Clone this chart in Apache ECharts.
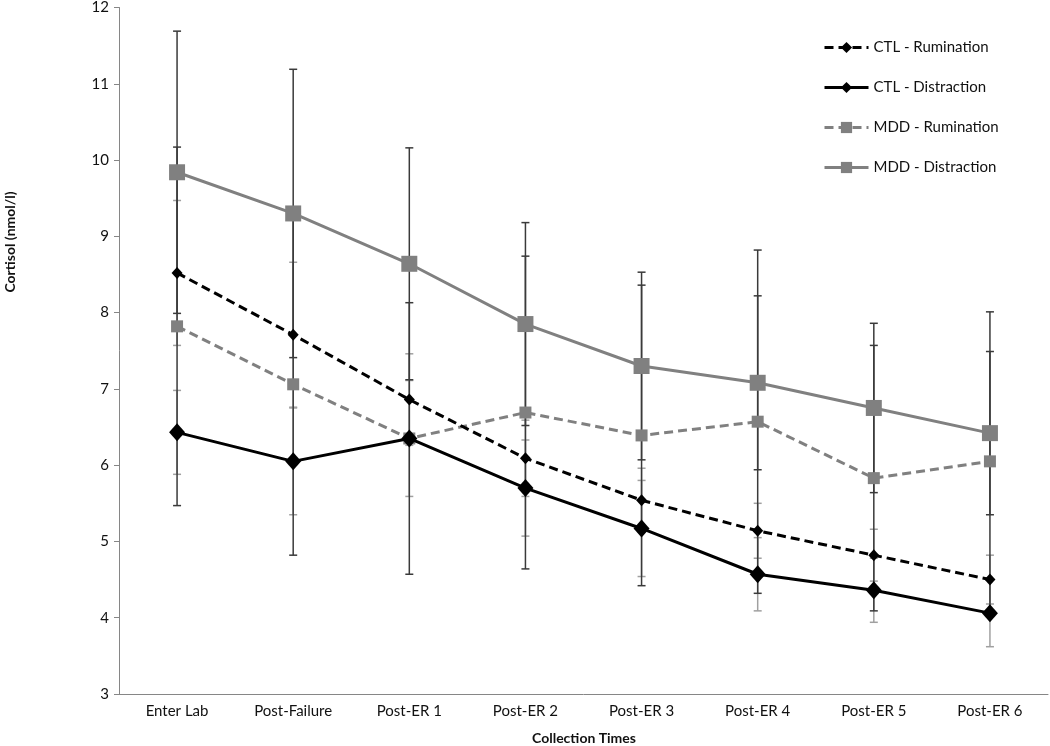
<!DOCTYPE html>
<html>
<head>
<meta charset="utf-8">
<script src="https://cdn.jsdelivr.net/npm/echarts@6/dist/echarts.min.js"></script>
<style>
html,body{margin:0;padding:0;background:#fff;}
#chart{width:1050px;height:746px;}
</style>
</head>
<body>
<div id="chart"></div>
<script>
const categories = ['Enter Lab','Post-Failure','Post-ER 1','Post-ER 2','Post-ER 3','Post-ER 4','Post-ER 5','Post-ER 6'];
const yTicks = {min: 3, max: 12, interval: 1};

const ctlRum    = [8.52, 7.71, 6.86, 6.09, 5.54, 5.14, 4.82, 4.50];
const ctlRumErr = [0.95, 0.95, 0.60, 0.50, 0.42, 0.36, 0.34, 0.32];
const ctlDis    = [6.43, 6.05, 6.35, 5.70, 5.17, 4.57, 4.36, 4.06];
const ctlDisErr = [0.55, 0.70, 0.76, 0.63, 0.63, 0.48, 0.42, 0.44];
const mddRum    = [7.82, 7.06, 6.35, 6.69, 6.39, 6.57, 5.83, 6.05];
const mddRumErr = [2.35, 2.24, 1.78, 2.05, 1.97, 2.25, 1.74, 1.96];
const mddDis    = [9.84, 9.30, 8.64, 7.85, 7.30, 7.08, 6.75, 6.42];
const mddDisErr = [1.85, 1.89, 1.52, 1.33, 1.23, 1.14, 1.11, 1.07];

const FONT = 'Lato, "Open Sans", sans-serif';

function errData(vals, errs){
  return vals.map((v,i)=>[i, v - errs[i], v + errs[i]]);
}
function errRender(color){
  return function(params, api){
    const x = api.value(0);
    const lo = api.coord([x, api.value(1)]);
    const hi = api.coord([x, api.value(2)]);
    const w = 4;
    const st = {stroke: color, lineWidth: 1.5};
    return {type:'group', children:[
      {type:'line', shape:{x1:lo[0], y1:lo[1], x2:hi[0], y2:hi[1]}, style:st},
      {type:'line', shape:{x1:lo[0]-w, y1:lo[1], x2:lo[0]+w, y2:lo[1]}, style:st},
      {type:'line', shape:{x1:hi[0]-w, y1:hi[1], x2:hi[0]+w, y2:hi[1]}, style:st}
    ]};
  };
}
function errSeries(vals, errs, color, z){
  return {type:'custom', renderItem: errRender(color), data: errData(vals, errs),
    encode:{x:0, y:[1,2]}, z: z, silent:true};
}

const chart = echarts.init(document.getElementById('chart'));
chart.setOption({
  animation: false,
  grid: {left: 119, right: 2, top: 5.5, bottom: 52, containLabel: false},
  legend: {
    orient: 'vertical', left: 823, top: 40, padding: 0,
    itemWidth: 44, itemHeight: 14, itemGap: 25,
    lineStyle: {width: 3},
    textStyle: {fontFamily: FONT, fontSize: 15, color: '#111'},
    data: ['CTL - Rumination','CTL - Distraction','MDD - Rumination','MDD - Distraction']
  },
  xAxis: {
    type: 'category', data: categories, boundaryGap: true,
    axisLine: {lineStyle: {color: '#868686', width: 1}},
    axisTick: {length: 5, lineStyle: {color: '#868686'}},
    axisLabel: {fontFamily: FONT, fontSize: 15, color: '#111', margin: 10},
    splitLine: {show: false}
  },
  yAxis: {
    type: 'value', min: yTicks.min, max: yTicks.max, interval: yTicks.interval,
    axisLine: {show: true, lineStyle: {color: '#868686', width: 1}},
    axisTick: {show: true, length: 5, lineStyle: {color: '#868686'}},
    axisLabel: {fontFamily: FONT, fontSize: 15, color: '#111', margin: 10},
    splitLine: {show: false}
  },
  graphic: [
    {type:'text', x: 10, y: 242, rotation: Math.PI/2,
      style:{text:'Cortisol (nmol/l)', font:'bold 14px ' + FONT, fill:'#111', textAlign:'center', textVerticalAlign:'middle'}},
    {type:'text', x: 584, y: 738,
      style:{text:'Collection Times', font:'bold 14px ' + FONT, fill:'#111', textAlign:'center', textVerticalAlign:'middle'}}
  ],
  series: [
    errSeries(ctlRum, ctlRumErr, '#a0a0a0', 1),
    errSeries(ctlDis, ctlDisErr, '#a0a0a0', 1),
    errSeries(mddRum, mddRumErr, '#3a3a3a', 2),
    errSeries(mddDis, mddDisErr, '#3a3a3a', 2),
    {name:'CTL - Rumination', type:'line', data: ctlRum, z: 5,
      symbol:'diamond', symbolSize:[11,12],
      itemStyle:{color:'#000'}, lineStyle:{color:'#000', width:3, type:[9,5]}},
    {name:'CTL - Distraction', type:'line', data: ctlDis, z: 5,
      symbol:'diamond', symbolSize:[16,18],
      itemStyle:{color:'#000'}, lineStyle:{color:'#000', width:3, type:'solid'}},
    {name:'MDD - Rumination', type:'line', data: mddRum, z: 4,
      symbol:'rect', symbolSize:12,
      itemStyle:{color:'#808080'}, lineStyle:{color:'#808080', width:3, type:[9,5]}},
    {name:'MDD - Distraction', type:'line', data: mddDis, z: 4,
      symbol:'rect', symbolSize:16,
      itemStyle:{color:'#808080'}, lineStyle:{color:'#808080', width:3, type:'solid'}}
  ]
});
</script>
</body>
</html>
